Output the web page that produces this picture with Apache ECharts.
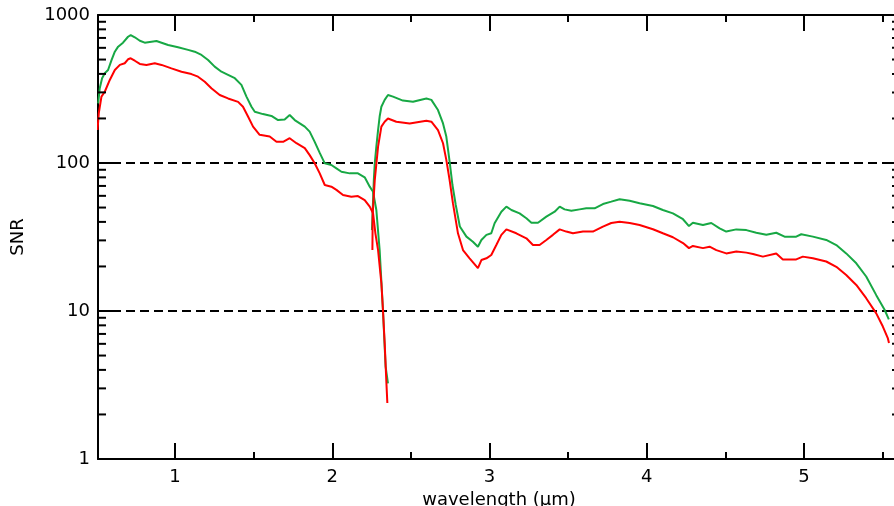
<!DOCTYPE html>
<html><head><meta charset="utf-8">
<script src="https://cdn.jsdelivr.net/npm/echarts@6/dist/echarts.min.js"></script>
<style>html,body{margin:0;padding:0;background:#fff}#c{width:894px;height:506px}</style>
</head><body><div id="c"></div>
<script>
// Axis ranges
const X_MIN = 0.51, X_MAX = 5.61;
const Y_MIN = 1, Y_MAX = 1000;
const yMinorTicks = [2,3,4,5,6,7,8,9,20,30,40,50,60,70,80,90,200,300,400,500,600,700,800,900];

// Green curve, first channel
const greenCh1Wl = [0.511,0.521,0.536,0.553,0.574,0.596,0.617,0.638,0.669,0.701,0.718,0.744,0.776,0.807,0.850,0.882,0.914,0.956,1.019,1.083,1.125,1.168,1.210,1.252,1.295,1.337,1.380,1.422,1.454,1.486,1.507,1.559,1.613,1.655,1.697,1.729,1.761,1.825,1.856,1.888,1.920,1.952,1.994,2.026,2.058,2.111,2.163,2.206,2.238,2.259,2.280,2.301,2.322,2.339,2.354];
const greenCh1Snr = [253,320,374,404,425,496,565,611,650,713,732,707,670,650,660,667,650,627,605,581,565,537,496,448,414,394,374,337,281,240,222,214,208,195,197,211,195,176,163,139,117,99.5,96.9,92.0,87.3,85.1,85.1,80.0,69.2,64.0,48.1,25.8,10.2,4.21,3.24];
// Green curve, second channel
const greenCh2Wl = [2.252,2.264,2.270,2.280,2.291,2.301,2.312,2.333,2.354,2.386,2.449,2.513,2.598,2.630,2.672,2.704,2.725,2.746,2.764,2.785,2.811,2.853,2.894,2.926,2.948,2.980,3.011,3.032,3.075,3.107,3.139,3.191,3.234,3.266,3.308,3.361,3.414,3.446,3.477,3.520,3.573,3.615,3.668,3.721,3.774,3.827,3.891,3.954,4.039,4.102,4.166,4.230,4.268,4.293,4.357,4.410,4.463,4.505,4.569,4.633,4.696,4.760,4.823,4.876,4.950,4.982,5.056,5.141,5.205,5.268,5.332,5.395,5.459,5.512,5.539];
const greenCh2Snr = [35.2,76.7,99.5,129,167,206,240,267,288,281,264,259,273,267,228,185,151,102,71,52,37.2,31.8,29.4,27.2,30.2,32.7,33.5,39.2,46.9,50.7,48.1,45.7,42.3,39.5,39.5,43.4,46.9,50.7,48.6,47.6,48.6,49.4,49.4,52.8,54.8,56.9,55.6,53.5,51.2,48.1,45.7,41.7,37.5,39.5,38.1,39.3,36.2,34.4,35.6,35.2,33.8,32.7,33.8,31.8,31.8,33.0,31.8,30.2,27.9,24.5,21.0,17.1,12.8,10.2,8.79];

// Red curve, first channel
const redCh1Wl = [0.507,0.515,0.532,0.553,0.585,0.617,0.649,0.680,0.701,0.718,0.744,0.776,0.818,0.871,0.914,0.977,1.041,1.104,1.146,1.189,1.231,1.284,1.337,1.401,1.432,1.464,1.496,1.538,1.602,1.645,1.687,1.729,1.772,1.825,1.856,1.888,1.920,1.952,1.994,2.026,2.068,2.121,2.163,2.206,2.238,2.259,2.274,2.291,2.312,2.322,2.333,2.344,2.350];
const redCh1Snr = [167,217,281,303,364,425,460,472,502,510,491,467,460,472,460,436,414,399,383,354,320,288,273,259,240,206,176,155,151,139,139,147,136,126,113,99.5,85.1,71.0,69.2,65.8,60.8,59.2,59.8,56.2,50.7,45.8,33.5,25.8,15.4,10.2,6.08,3.27,2.39];
// Red curve, second channel
const redCh2Wl = [2.255,2.257,2.270,2.291,2.312,2.333,2.354,2.407,2.492,2.598,2.630,2.672,2.704,2.725,2.746,2.767,2.799,2.831,2.873,2.926,2.948,2.980,3.011,3.043,3.075,3.107,3.170,3.234,3.276,3.318,3.361,3.403,3.446,3.488,3.530,3.594,3.657,3.721,3.774,3.827,3.891,3.954,4.039,4.102,4.166,4.230,4.268,4.293,4.357,4.399,4.442,4.505,4.569,4.633,4.675,4.738,4.823,4.865,4.950,4.992,5.056,5.141,5.205,5.268,5.332,5.395,5.459,5.501,5.533,5.540];
const redCh2Snr = [25.8,45.8,76.7,129,176,190,200,190,185,193,190,167,136,105,76.7,53.5,33.5,25.8,22.7,19.5,22.1,22.7,23.9,27.9,32.7,35.6,33.5,31.0,27.9,27.9,30.2,32.7,35.6,34.4,33.5,34.4,34.4,37.2,39.3,40.1,39.3,38.1,35.7,33.5,31.5,28.8,26.6,27.5,26.6,27.2,25.8,24.5,25.2,24.8,24.3,23.3,24.5,22.3,22.3,23.3,22.7,21.6,19.9,17.5,15.0,12.2,9.64,7.85,6.53,6.08];

const GREEN = '#17a844', RED = '#ff0000';
const FONT = 'DejaVu Sans';
const zip = (a, b) => a.map((v, i) => [v, b[i]]);
const blk = { color: '#000', width: 2 };

function xAx(pos, major, withLabel) {
  return {
    type: 'value', gridIndex: 0, position: pos, min: X_MIN, max: X_MAX,
    splitNumber: major ? 5 : 10,
    axisLine: { show: major, onZero: false, lineStyle: blk },
    axisTick: { show: true, inside: true, length: major ? 16 : 7, lineStyle: blk },
    axisLabel: withLabel ? { show: true, showMinLabel: false, showMaxLabel: false, fontSize: 18, fontFamily: FONT, color: '#000', margin: 9 } : { show: false },
    splitLine: { show: false },
    name: withLabel ? 'wavelength (\u03bcm)' : '',
    nameLocation: 'middle', nameGap: 27,
    nameTextStyle: { fontSize: 18, fontFamily: FONT, color: '#000' }
  };
}

function line(name, wl, snr, color) {
  return { type: 'line', name, xAxisIndex: 0, yAxisIndex: 0, data: zip(wl, snr), showSymbol: false, symbol: 'none',
    lineStyle: { color, width: 2 }, itemStyle: { color }, z: 3, animation: false };
}

const chart = echarts.init(document.getElementById('c'), null, { renderer: 'canvas' });
chart.setOption({
  animation: false,
  backgroundColor: '#fff',
  grid: { left: 98, right: -6, top: 15, bottom: 47, containLabel: false, outerBoundsMode: 'none' },
  xAxis: [xAx('bottom', true, true), xAx('bottom', false, false), xAx('top', true, false), xAx('top', false, false)],
  yAxis: [
    { type: 'log', logBase: 10, min: Y_MIN, max: Y_MAX, position: 'left',
      axisLine: { show: true, onZero: false, lineStyle: blk },
      axisTick: { show: true, inside: true, length: 16, lineStyle: blk },
      axisLabel: { fontSize: 18, fontFamily: FONT, color: '#000', margin: 8, formatter: v => String(Math.round(v)) },
      splitLine: { show: true, lineStyle: { color: '#000', width: 2, type: [9, 5] } },
      name: 'SNR', nameLocation: 'middle', nameGap: 71, nameRotate: 90,
      nameTextStyle: { fontSize: 18, fontFamily: FONT, color: '#000' } },
    { type: 'log', logBase: 10, min: Y_MIN, max: Y_MAX, position: 'right',
      axisLine: { show: true, onZero: false, lineStyle: blk },
      axisTick: { show: true, inside: true, length: 16, lineStyle: blk },
      axisLabel: { show: false }, splitLine: { show: false } }
  ],
  series: [
    line('green1', greenCh1Wl, greenCh1Snr, GREEN),
    line('green2', greenCh2Wl, greenCh2Snr, GREEN),
    line('red1', redCh1Wl, redCh1Snr, RED),
    line('red2', redCh2Wl, redCh2Snr, RED),
    { type: 'custom', xAxisIndex: 0, yAxisIndex: 0, silent: true, clip: false, z: 5,
      data: yMinorTicks.map(v => [X_MIN, v]), encode: { x: 0, y: 1 },
      renderItem: (params, api) => {
        const v = api.value(1);
        const l = api.coord([X_MIN, v]);
        const r = api.coord([X_MAX, v]);
        return { type: 'group', children: [
          { type: 'line', shape: { x1: l[0], y1: l[1], x2: l[0] + 8, y2: l[1] }, style: { stroke: '#000', lineWidth: 2 } },
          { type: 'line', shape: { x1: r[0] - 8, y1: r[1], x2: r[0], y2: r[1] }, style: { stroke: '#000', lineWidth: 2 } }
        ] };
      } }
  ]
});
</script></body></html>
